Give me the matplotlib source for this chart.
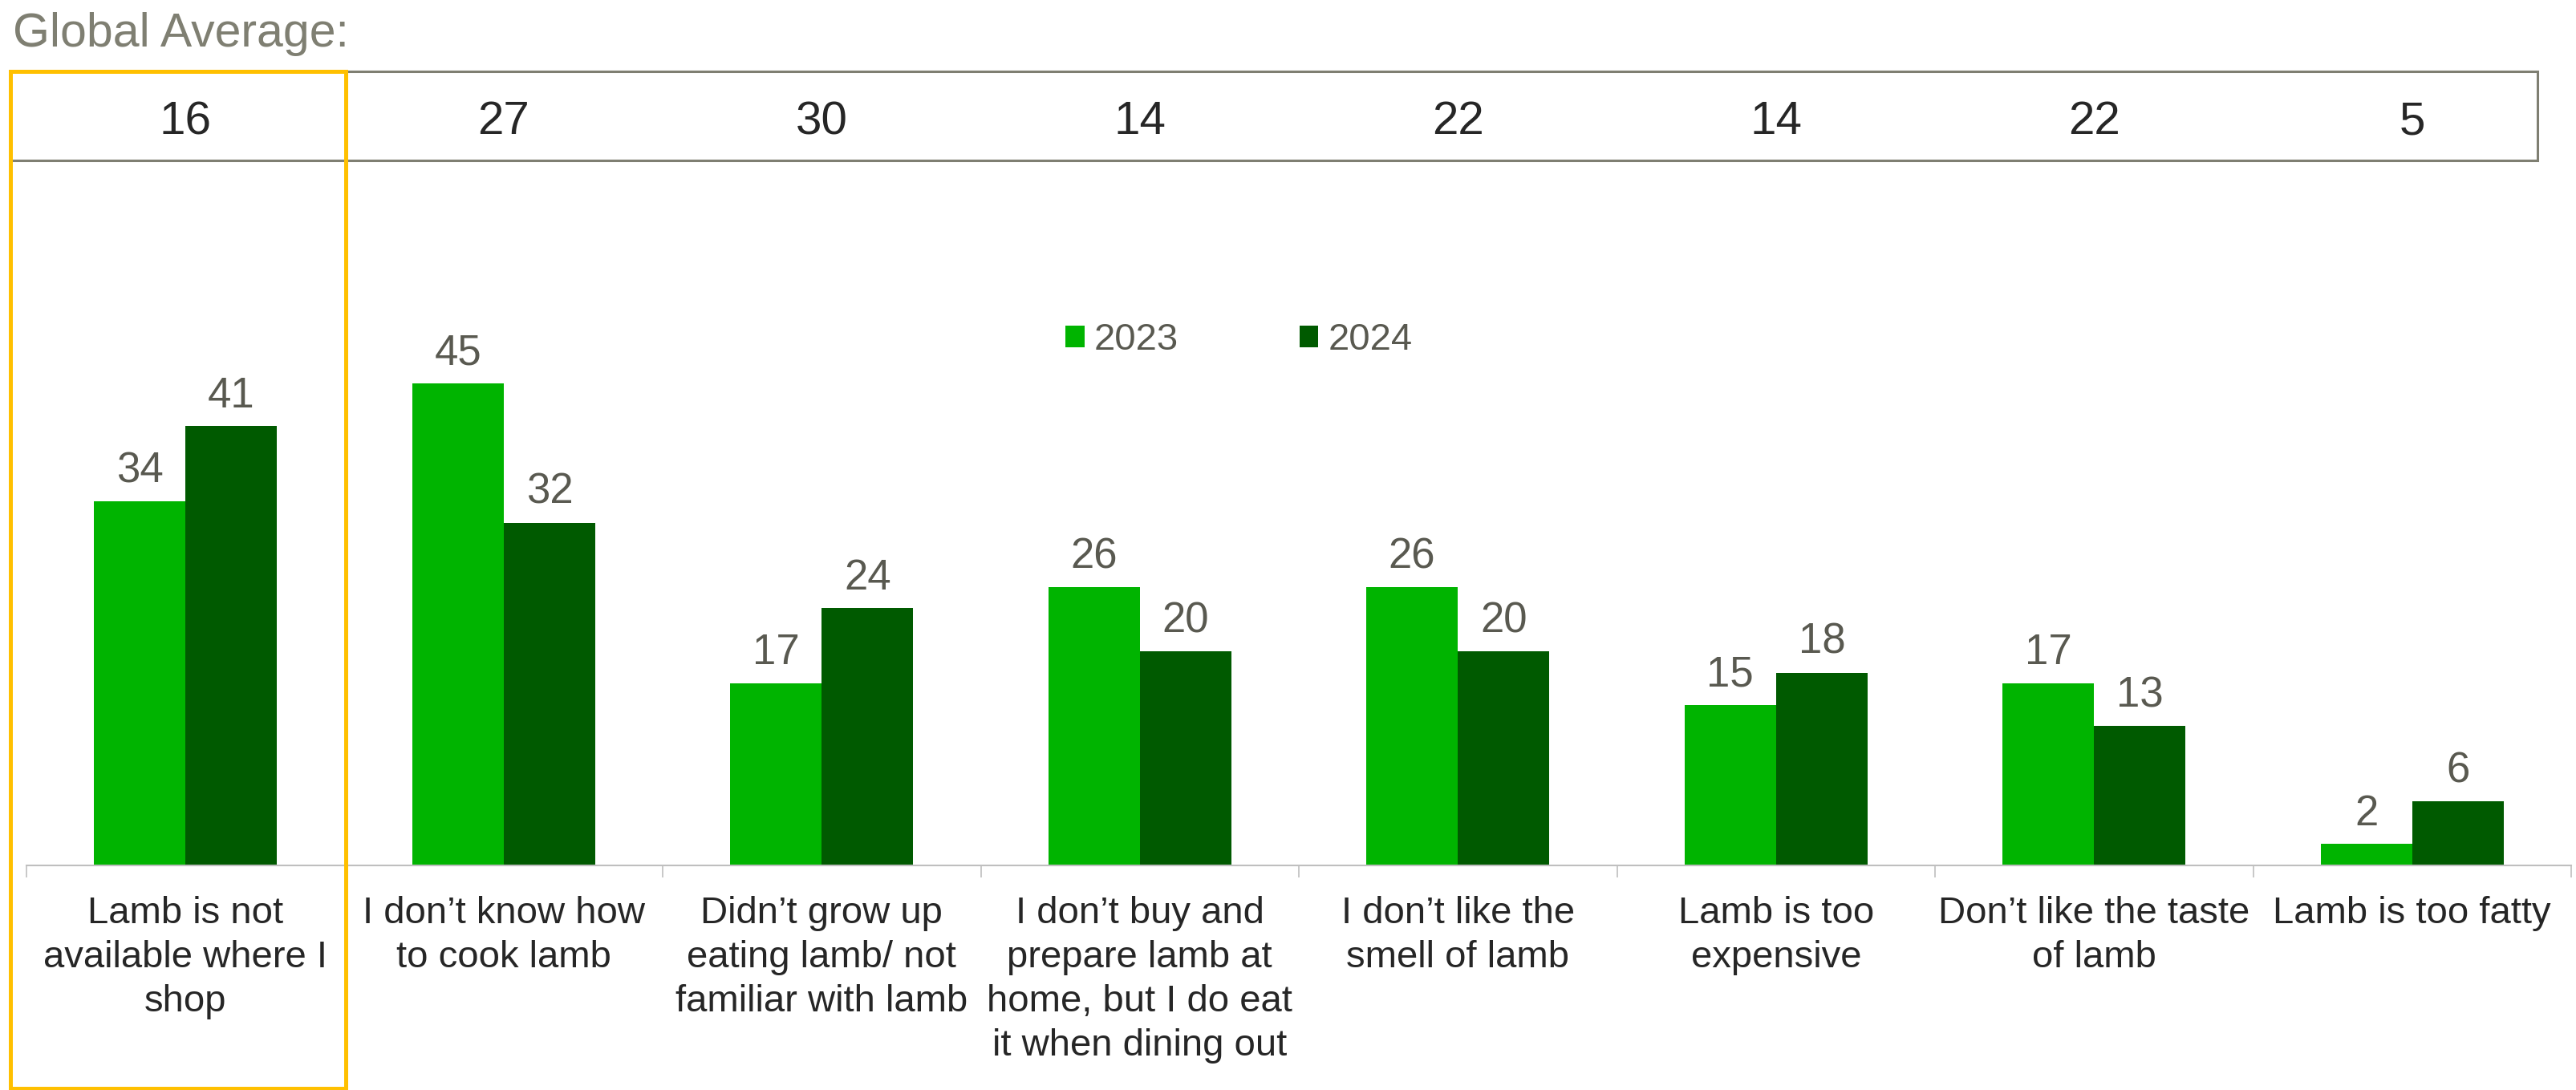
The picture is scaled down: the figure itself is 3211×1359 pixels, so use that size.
import matplotlib.pyplot as plt
import matplotlib.transforms as mtransforms
from matplotlib.patches import Rectangle

plt.rcParams['font.family'] = ['Liberation Sans', 'DejaVu Sans']

# ---- data ----
categories = [
    "Lamb is not\navailable where I\nshop",
    "I don\u2019t know how\nto cook lamb",
    "Didn\u2019t grow up\neating lamb/ not\nfamiliar with lamb",
    "I don\u2019t buy and\nprepare lamb at\nhome, but I do eat\nit when dining out",
    "I don\u2019t like the\nsmell of lamb",
    "Lamb is too\nexpensive",
    "Don\u2019t like the taste\nof lamb",
    "Lamb is too fatty",
]
global_avg = [16, 27, 30, 14, 22, 14, 22, 5]
years = ["2023", "2024"]
vals_2023 = [34, 45, 17, 26, 26, 15, 17, 2]
vals_2024 = [41, 32, 24, 20, 20, 18, 13, 6]

c23, c24 = '#00B400', '#005A00'
lbl_col = '#595950'
txt_col = '#262626'

W, H = 3211, 1359
def fx(px): return px / W
def fy(py): return 1 - py / H

fig = plt.figure(figsize=(W / 100, H / 100), dpi=100)
ax = fig.add_axes([fx(33), fy(1079), fx(3205) - fx(33), fy(200) - fy(1079)])

n = len(categories)
xs = list(range(n))
bw = 0.288
b1 = ax.bar([x - bw / 2 for x in xs], vals_2023, bw, color=c23, label=years[0])
b2 = ax.bar([x + bw / 2 for x in xs], vals_2024, bw, color=c24, label=years[1])

for bars, vals in ((b1, vals_2023), (b2, vals_2024)):
    for r, v in zip(bars, vals):
        ax.annotate(str(v), (r.get_x() + r.get_width() / 2, v), xytext=(0, 17),
                    textcoords='offset points', ha='center', va='baseline',
                    fontsize=38, color=lbl_col)

ax.set_xlim(-0.5, n - 0.5)
ax.set_ylim(0, 65.8)
for s in ('left', 'right', 'top'):
    ax.spines[s].set_visible(False)
ax.spines['bottom'].set_color('#BFBFBF')
ax.spines['bottom'].set_linewidth(1.5)
ax.set_yticks([])
ax.set_xticks([])
ax.set_xticks([x - 0.5 for x in range(n + 1)], minor=True)
ax.tick_params(axis='x', which='minor', length=11, width=1.2, color='#BFBFBF',
               direction='out')

# category labels under the axis, and global averages in the top strip
blend = mtransforms.blended_transform_factory(ax.transData, fig.transFigure)
for x, cat, g in zip(xs, categories, global_avg):
    ax.text(x, fy(1117), cat, transform=blend, ha='center', va='top',
            fontsize=34, color=txt_col, linespacing=1.32, clip_on=False)
    ax.text(x, fy(167), str(g), transform=blend, ha='center', va='baseline',
            fontsize=42, color=txt_col, clip_on=False)

fig.text(fx(16), fy(58), "Global Average:", ha='left', va='baseline',
         fontsize=42.5, color='#7F7F72')

# table strip
fig.add_artist(Rectangle((fx(13), fy(200)), fx(3163) - fx(13), fy(89) - fy(200),
                         transform=fig.transFigure, fill=False,
                         edgecolor='#7F7F72', linewidth=2.2))
# highlight box around the first category
fig.add_artist(Rectangle((fx(13), fy(1357)), fx(431) - fx(13), fy(89) - fy(1357),
                         transform=fig.transFigure, fill=False,
                         edgecolor='#FFC000', linewidth=3.6))

ax.legend(handles=[b1, b2], labels=years, loc='center left',
          bbox_to_anchor=(fx(1328), fy(424)), bbox_transform=fig.transFigure,
          ncol=2, frameon=False, fontsize=34, labelcolor=lbl_col,
          handlelength=0.5, handleheight=0.5, handletextpad=0.25,
          columnspacing=3.2, borderpad=0, borderaxespad=0)

fig.savefig('out.png', dpi=100, facecolor='white')
